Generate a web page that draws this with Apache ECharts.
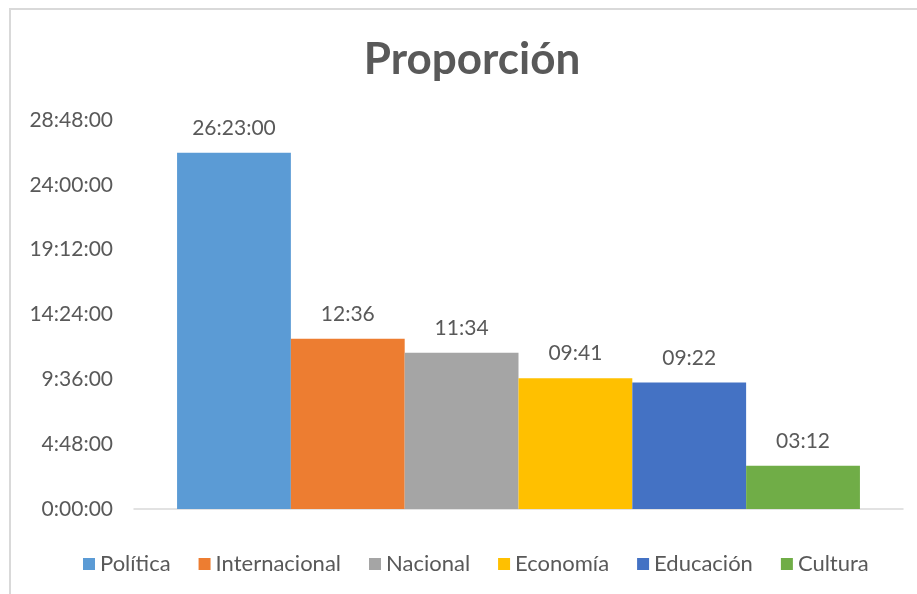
<!DOCTYPE html>
<html>
<head>
<meta charset="utf-8">
<script src="https://cdn.jsdelivr.net/npm/echarts@6/dist/echarts.min.js"></script>
<style>
  html, body { margin: 0; padding: 0; background: #fff; }
  #chart { width: 917px; height: 594px; }
</style>
</head>
<body>
<div id="chart"></div>
<script>
// datos (minutos)
var seriesNames = ['Política', 'Internacional', 'Nacional', 'Economía', 'Educación', 'Cultura'];
var seriesMinutes = [1583, 756, 694, 581, 562, 192];
var barLabels = ['26:23:00', '12:36', '11:34', '09:41', '09:22', '03:12'];
var seriesColors = ['#5B9BD5', '#ED7D31', '#A5A5A5', '#FFC000', '#4472C4', '#70AD47'];
var yMax = 1728;      // 28:48:00
var yStep = 288;      // 4:48:00

var font = 'Lato, "Open Sans", sans-serif';

function fmtTime (m) {
  var h = Math.floor(m / 60);
  var mm = Math.round(m % 60);
  return h + ':' + (mm < 10 ? '0' + mm : mm) + ':00';
}

var myChart = echarts.init(document.getElementById('chart'));

var series = seriesNames.map(function (name, i) {
  return {
    name: name,
    type: 'bar',
    barGap: '0%',
    barCategoryGap: '11.2%',
    itemStyle: { color: seriesColors[i] },
    label: {
      show: true,
      position: 'top',
      distance: 14,
      color: '#595959',
      fontFamily: font,
      fontSize: 21,
      formatter: function () { return barLabels[i]; }
    },
    data: [seriesMinutes[i]]
  };
});

myChart.setOption({
  animation: false,
  title: {
    text: 'Proporción',
    left: 467,
    textAlign: 'center',
    top: 33,
    textStyle: {
      color: '#595959',
      fontFamily: font,
      fontWeight: 'bold',
      fontSize: 44
    }
  },
  graphic: [{
    type: 'rect',
    shape: { x: 10, y: 9, width: 1000, height: 1000 },
    style: { fill: 'none', stroke: '#D9D9D9', lineWidth: 2 },
    silent: true
  }],
  legend: {
    data: seriesNames,
    bottom: 14,
    left: 78,
    itemWidth: 12,
    itemHeight: 12,
    itemGap: 28,
    icon: 'rect',
    textStyle: { color: '#595959', fontFamily: font, fontSize: 22 }
  },
  grid: {
    left: 134,
    right: 14,
    top: 120,
    bottom: 85
  },
  xAxis: {
    type: 'category',
    data: [''],
    axisTick: { show: false },
    axisLabel: { show: false },
    axisLine: { lineStyle: { color: '#D9D9D9', width: 1.5 } }
  },
  yAxis: {
    type: 'value',
    min: 0,
    max: yMax,
    interval: yStep,
    splitLine: { show: false },
    axisLine: { show: false },
    axisTick: { show: false },
    axisLabel: {
      margin: 21,
      color: '#595959',
      fontFamily: font,
      fontSize: 21,
      formatter: fmtTime
    }
  },
  series: series
});
</script>
</body>
</html>
